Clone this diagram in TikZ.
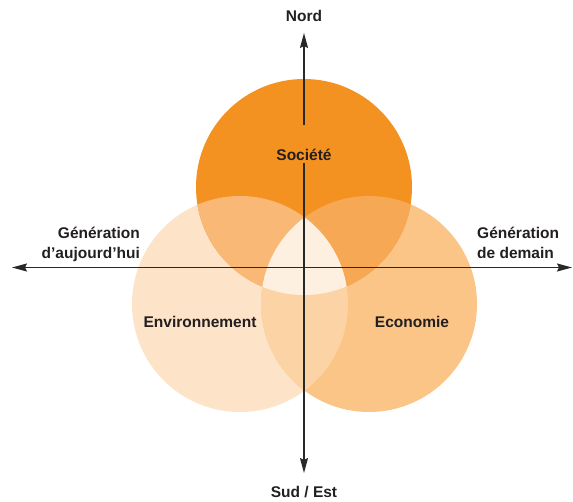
\documentclass[tikz,border=0pt]{standalone}
\usepackage{fontspec}
\setmainfont{Liberation Sans}
\usetikzlibrary{arrows.meta}
\definecolor{cTop}{RGB}{243,146,33}
\definecolor{cLeft}{RGB}{253,227,200}
\definecolor{cRight}{RGB}{250,197,135}
\definecolor{cTL}{RGB}{249,184,117}
\definecolor{cTR}{RGB}{246,168,84}
\definecolor{cLR}{RGB}{252,211,165}
\definecolor{cAll}{RGB}{254,240,225}
\definecolor{axis}{RGB}{40,40,40}
\definecolor{txt}{RGB}{35,31,32}
\tikzset{
  axisline/.style={draw=axis,line width=1.4pt,-{Stealth[length=15pt,width=8pt,inset=2pt]}},
  lbl/.style={font=\fontsize{15.5}{20}\selectfont\bfseries,text=txt,inner sep=0pt},
}
\begin{document}
\begin{tikzpicture}[x=1pt,y=-1pt]
\useasboundingbox (0,0) rectangle (573,502);
\def\R{108}
\coordinate (T) at (304,187);
\coordinate (L) at (240,304);
\coordinate (Rr) at (369,304);
% base circles
\fill[cLeft] (L) circle (\R);
\fill[cRight] (Rr) circle (\R);
\fill[cTop] (T) circle (\R);
% pairwise overlaps
\begin{scope}\clip (T) circle (\R); \fill[cTL] (L) circle (\R);\end{scope}
\begin{scope}\clip (T) circle (\R); \fill[cTR] (Rr) circle (\R);\end{scope}
\begin{scope}\clip (L) circle (\R); \fill[cLR] (Rr) circle (\R);\end{scope}
\begin{scope}\clip (T) circle (\R); \clip (L) circle (\R); \fill[cAll] (Rr) circle (\R);\end{scope}
% axes
\coordinate (O) at (304,267.5);
\coordinate (N) at (304,33);
\coordinate (S) at (304,473);
\coordinate (W) at (12,267.5);
\coordinate (E) at (572,267.5);
\draw[axisline] (O) -- (N);
\draw[axisline] (O) -- (S);
\draw[axisline] (O) -- (W);
\draw[axisline] (O) -- (E);
% labels
\node[lbl,anchor=base] (nord) at (304,21.5) {Nord};
\node[lbl,anchor=base] (sud) at (304,497) {Sud / Est};
\node[lbl,anchor=base,fill=cTop,inner xsep=2pt,inner ysep=0pt,text height=35pt,text depth=3pt] (soc) at (304,160.5) {Société};
\node[lbl,anchor=base] (env) at (200,327.5) {Environnement};
\node[lbl,anchor=base] (eco) at (412,327.5) {Economie};
\node[lbl,anchor=base east] (gauj) at (140,259) {\begin{tabular}[b]{@{}r@{}}Génération\\d’aujourd’hui\end{tabular}};
\node[lbl,anchor=base west] (gdem) at (477,259) {\begin{tabular}[b]{@{}l@{}}Génération\\de demain\end{tabular}};
\end{tikzpicture}
\end{document}
